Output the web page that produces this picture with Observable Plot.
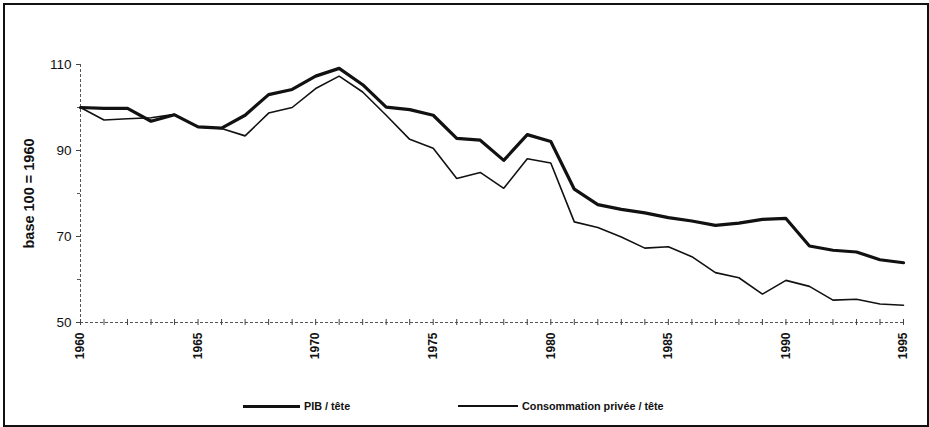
<!DOCTYPE html>
<html>
<head>
<meta charset="utf-8">
<script src="https://cdn.jsdelivr.net/npm/d3@7"></script>
<script src="https://cdn.jsdelivr.net/npm/@observablehq/plot@0.6"></script>
<style>
  html, body { margin: 0; padding: 0; background: #fff; }
  body { width: 929px; height: 427px; position: relative; overflow: hidden; font-family: "Liberation Sans", Arial, sans-serif; }
  #chart { position: absolute; left: 0; top: 0; }
  #frame { position: absolute; left: 3px; top: 3px; width: 926px; height: 424px; box-sizing: border-box; border: 2px solid #111; pointer-events: none; }
  .leg { position: absolute; top: 399px; height: 14px; display: flex; align-items: center; font-size: 10.8px; font-weight: bold; color: #111; white-space: nowrap; }
  .sw { display: inline-block; background: #111; margin-right: 4px; }
</style>
</head>
<body>
<div id="chart"></div>
<div class="leg" style="left:243px"><span class="sw" style="width:57px;height:3px"></span>PIB / tête</div>
<div class="leg" style="left:458px"><span class="sw" style="width:60px;height:1.5px"></span>Consommation privée / tête</div>
<div id="frame"></div>
<script>
const years = d3.range(1960, 1996);
const pib = [100, 99.8, 99.8, 96.8, 98.3, 95.5, 95.2, 98.2, 103, 104.2,
             107.3, 109.1, 105.3, 100.1, 99.5, 98.2, 92.8, 92.4, 87.7, 93.7,
             92.1, 81, 77.4, 76.3, 75.5, 74.4, 73.6, 72.6, 73.1, 74,
             74.2, 67.8, 66.8, 66.4, 64.6, 63.9];
const conso = [100, 97.1, 97.4, 97.6, 98.4, 95.5, 95.1, 93.4, 98.7, 100,
               104.4, 107.3, 103.6, 98.2, 92.6, 90.5, 83.5, 84.9, 81.2, 88.1,
               87.1, 73.4, 72.1, 69.9, 67.3, 67.6, 65.3, 61.6, 60.4, 56.6,
               59.8, 58.4, 55.2, 55.4, 54.3, 54.0];
const yTicks = [50, 70, 90, 110];
const yMinorTicks = [60, 80, 100];
const xLabelYears = [1960, 1965, 1970, 1975, 1980, 1985, 1990, 1995];
const yLabel = "base 100 = 1960";

const pibData = years.map((year, i) => ({year, value: pib[i]}));
const consoData = years.map((year, i) => ({year, value: conso[i]}));

const chart = Plot.plot({
  width: 929,
  height: 372,
  marginLeft: 80,
  marginRight: 26,
  marginTop: 64,
  marginBottom: 50,
  style: {fontFamily: "'Liberation Sans', Arial, sans-serif", color: "#111", background: "transparent"},
  x: {type: "linear", domain: [1960, 1995]},
  y: {domain: [50, 110]},
  marks: [
    Plot.ruleY([50], {stroke: "#555", strokeWidth: 1, strokeDasharray: "3,2"}),
    Plot.ruleX([1960], {stroke: "#555", strokeWidth: 1, strokeDasharray: "3,2"}),
    Plot.axisX({ticks: years, tickSize: 3, tickFormat: () => "", label: null, stroke: "#444"}),
    Plot.axisX({ticks: years, tickSize: 3, tickFormat: () => "", label: null, stroke: "#444", dy: -3}),
    Plot.axisX({ticks: xLabelYears, tickFormat: d => String(d), tickRotate: -90, tickSize: 0, tickPadding: 10, fontSize: 12, fontWeight: "bold", label: null}),
    Plot.axisY({ticks: yTicks, tickSize: 4, tickPadding: 5, fontSize: 13.5, label: null, stroke: "#444"}),
    Plot.axisY({ticks: yMinorTicks, tickSize: 3, tickFormat: () => "", label: null, stroke: "#555"}),
    Plot.text([yLabel], {frameAnchor: "left", textAnchor: "middle", dx: -51, rotate: -90, fontSize: 14.5, fontWeight: "bold", fill: "#111"}),
    Plot.line(consoData, {x: "year", y: "value", stroke: "#111", strokeWidth: 1.6, strokeLinejoin: "miter"}),
    Plot.line(pibData, {x: "year", y: "value", stroke: "#111", strokeWidth: 3.2, strokeLinejoin: "round"})
  ]
});
document.getElementById("chart").appendChild(chart);
</script>
</body>
</html>
